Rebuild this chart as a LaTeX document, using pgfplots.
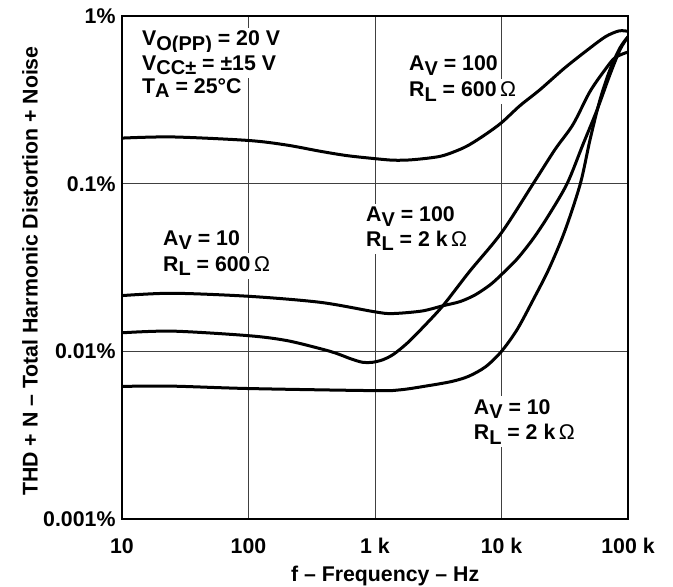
\documentclass[border=0pt]{standalone}
\usepackage{fontspec}
\setmainfont{Liberation Sans}
\usepackage{pgfplots}
\pgfplotsset{compat=1.18}

\newcommand{\sub}[1]{\raisebox{-4.5pt}{\fontsize{20}{22}\selectfont #1}}
\newcommand{\lbl}{\fontsize{21.3}{25}\selectfont\bfseries}
\newcommand{\ohm}{{\mdseries\,Ω}}

\pgfplotstableread{
f v
10 0.187
25 0.19
100 0.181
200 0.170
370 0.156
600 0.147
1000 0.141
1410 0.138
2000 0.139
3270 0.1455
4500 0.158
5600 0.171
7500 0.197
10000 0.231
14000 0.292
20100 0.363
31800 0.492
50000 0.644
67000 0.756
85000 0.815
100000 0.81
}\curveA

\pgfplotstableread{
f v
10 0.0215
25 0.0222
100 0.0213
370 0.0196
1000 0.0172
1370 0.0168
2350 0.0174
3440 0.0187
4700 0.0198
6180 0.0217
8120 0.0249
10000 0.0287
13300 0.0356
17800 0.0470
23300 0.0638
33000 0.1
44000 0.171
57000 0.276
72000 0.447
86500 0.63
100000 0.752
}\curveB

\pgfplotstableread{
f v
10 0.0129
25 0.0132
100 0.0124
200 0.0116
383 0.0103
500 0.0097
650 0.0090
800 0.0086
950 0.0086
1150 0.0089
1400 0.0096
1800 0.0112
2350 0.0137
3440 0.0187
5600 0.030
10000 0.051
17800 0.1
26500 0.16
36700 0.225
50000 0.354
65800 0.478
78900 0.564
100000 0.61
}\curveC

\pgfplotstableread{
f v
10 0.00618
25 0.0062
100 0.0060
1000 0.00583
1600 0.0059
2500 0.0062
4000 0.0066
5500 0.0071
7500 0.0081
10000 0.0100
13300 0.0135
17800 0.0203
23700 0.031
31600 0.052
42000 0.1
50100 0.183
60100 0.317
72000 0.478
86500 0.647
100000 0.752
}\curveD

\begin{document}
\begin{tikzpicture}
\begin{axis}[
  name=ax,
  xmode=log, ymode=log,
  scale only axis, width=506pt, height=503pt,
  xmin=10, xmax=100000, ymin=0.001, ymax=1,
  xtick={10,100,1000,10000,100000},
  xticklabels={10,100,1 k,10 k,100 k},
  ytick={0.001,0.01,0.1,1},
  yticklabels={0.001\%,0.01\%,0.1\%,1\%},
  minor xtick={}, minor ytick={},
  major tick length=0pt, minor tick length=0pt,
  grid=major,
  major grid style={line width=1pt, black!75},
  axis line style={line width=2pt},
  tick label style={font=\lbl},
  xticklabel style={anchor=base, yshift=-34pt},
  yticklabel style={xshift=-3pt},
  xlabel={f -- Frequency -- Hz},
  ylabel={THD + N -- Total Harmonic Distortion + Noise},
  label style={font=\lbl},
  xlabel style={at={(axis description cs:0.52,-0.1252)}, anchor=base},
  ylabel style={at={(axis description cs:-0.1818,0.493)}, anchor=center},
]
% annotations (white background hides grid lines)
\node[font=\lbl, anchor=base west, fill=white, inner sep=3pt] at (rel axis cs:0.0336,0.9404) {V\sub{O(PP)} = 20 V};
\node[font=\lbl, anchor=base west, fill=white, inner sep=3pt] at (rel axis cs:0.0336,0.8926) {V\sub{CC±} = ±15 V};
\node[font=\lbl, anchor=base west, fill=white, inner sep=3pt] at (rel axis cs:0.0336,0.8469) {T\sub{A} = 25°C};

\node[font=\lbl, anchor=base west, fill=white, inner sep=3pt] at (rel axis cs:0.5613,0.8913) {A\sub{V} = 100};
\node[font=\lbl, anchor=base west, fill=white, inner sep=3pt] at (rel axis cs:0.5613,0.8396) {R\sub{L} = 600\ohm};

\node[font=\lbl, anchor=base west, fill=white, inner sep=3pt] at (rel axis cs:0.4763,0.5911) {A\sub{V} = 100};
\node[font=\lbl, anchor=base west, fill=white, inner sep=3pt] at (rel axis cs:0.4763,0.5427) {R\sub{L} = 2 k\ohm};

\node[font=\lbl, anchor=base west, fill=white, inner sep=3pt] at (rel axis cs:0.0751,0.5447) {A\sub{V} = 10};
\node[font=\lbl, anchor=base west, fill=white, inner sep=3pt] at (rel axis cs:0.0751,0.4930) {R\sub{L} = 600\ohm};

\node[font=\lbl, anchor=base west, fill=white, inner sep=3pt] at (rel axis cs:0.6891,0.2087) {A\sub{V} = 10};
\node[font=\lbl, anchor=base west, fill=white, inner sep=3pt] at (rel axis cs:0.6891,0.1571) {R\sub{L} = 2 k\ohm};

\addplot[black, line width=3pt, smooth] table[x=f,y=v] {\curveA};
\addplot[black, line width=3pt, smooth] table[x=f,y=v] {\curveB};
\addplot[black, line width=3pt, smooth] table[x=f,y=v] {\curveC};
\addplot[black, line width=3pt, smooth] table[x=f,y=v] {\curveD};
\end{axis}
\pgfresetboundingbox
\path[use as bounding box] ([xshift=-122pt,yshift=-68pt]ax.south west) rectangle ([xshift=45pt,yshift=16pt]ax.north east);
\end{tikzpicture}
\end{document}
